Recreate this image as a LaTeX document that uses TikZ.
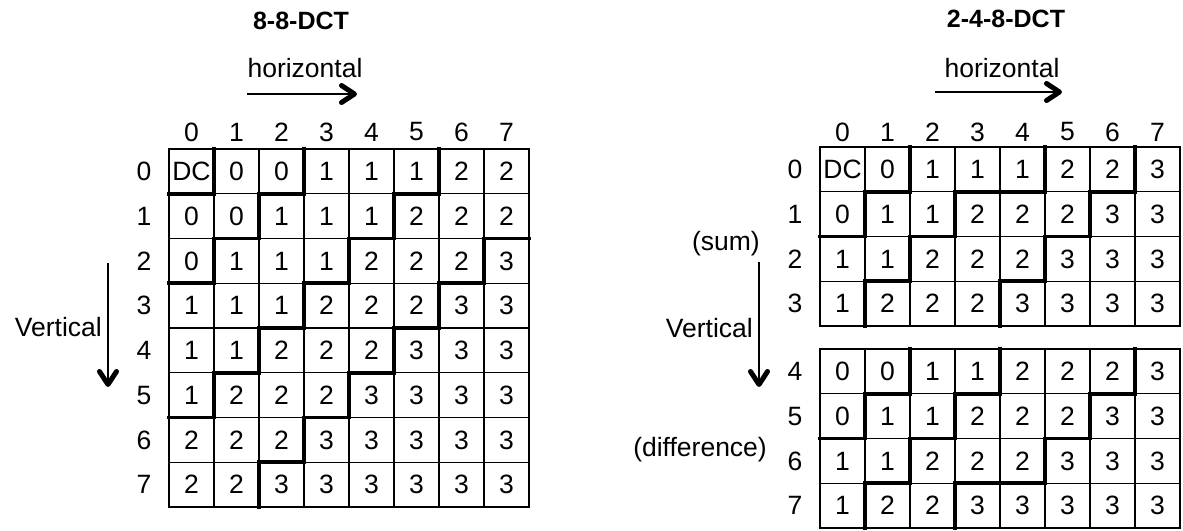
\documentclass[tikz,border=0pt]{standalone}
\usepackage{fontspec}
\setmainfont{Liberation Sans}
\usetikzlibrary{arrows.meta}

\tikzset{
  gridline/.style={line width=1.3pt},
  zoneline/.style={line width=3.6pt, line cap=rect},
  lab/.style={inner sep=0pt},
  dir/.style={line width=1.1pt, -{Straight Barb[length=13pt,width=17pt,line width=5pt 0,round]}},
}

% zone numbers, row by row (-1 = DC on its own)
\def\fullvals{{-1,0,0,1,1,1,2,2, 0,0,1,1,1,2,2,2, 0,1,1,1,2,2,2,3, 1,1,1,2,2,2,3,3,
  1,1,2,2,2,3,3,3, 1,2,2,2,3,3,3,3, 2,2,2,3,3,3,3,3, 2,2,3,3,3,3,3,3}}
\def\sumvals{{0,0,1,1,1,2,2,3, 0,1,1,2,2,2,3,3, 1,1,2,2,2,3,3,3, 1,2,2,2,3,3,3,3}}
\def\diffvals{{0,0,1,1,2,2,2,3, 0,1,1,2,2,2,3,3, 1,1,2,2,2,3,3,3, 1,2,2,3,3,3,3,3}}

% #1 name, #2 left, #3 top, #4 rows, #5 first row label, #6 zone numbers
\newcommand{\dctgrid}[6]{%
  \pgfmathtruncatemacro\lastrow{#4-1}
  \pgfmathtruncatemacro\penrow{#4-2}
  \foreach \r in {0,...,\lastrow}{
    \pgfmathtruncatemacro\lab{#5+\r}
    \node[lab] (#1-row\r) at (#2-25,#3+44.75*\r+22.4) {\lab};
    \foreach \c in {0,...,7}{
      \pgfmathtruncatemacro\zval{#6[\r*8+\c]}
      \pgfmathtruncatemacro\isdc{and(\r==0,and(\c==0,#5==0))}
      \node[lab] (#1-\r-\c) at (#2+45*\c+22.5,#3+44.75*\r+22.4)
        {\ifnum\isdc=1 DC\else\zval\fi};
    }
  }
  % thin lines
  \foreach \c in {1,...,7}
    \draw[gridline] (#2+45*\c,#3) -- ++(0,44.75*#4);
  \foreach \r in {1,...,\lastrow}
    \draw[gridline] (#2,#3+44.75*\r) -- ++(360,0);
  \draw[gridline] (#2,#3) rectangle ++(360,44.75*#4);
  % thick lines between zones
  \foreach \r in {0,...,\lastrow}{
    \foreach \c in {0,...,6}{
      \pgfmathtruncatemacro\za{#6[\r*8+\c]}
      \pgfmathtruncatemacro\zb{#6[\r*8+\c+1]}
      \ifnum\za=\zb\else\draw[zoneline] (#2+45*\c+45,#3+44.75*\r) -- ++(0,44.75);\fi
    }
  }
  \foreach \r in {0,...,\penrow}{
    \foreach \c in {0,...,7}{
      \pgfmathtruncatemacro\za{#6[\r*8+\c]}
      \pgfmathtruncatemacro\zb{#6[\r*8+\c+8]}
      \ifnum\za=\zb\else\draw[zoneline] (#2+45*\c,#3+44.75*\r+44.75) -- ++(45,0);\fi
    }
  }
}

\begin{document}
\begin{tikzpicture}[x=1pt, y=-1pt, font=\fontsize{26.5}{31}\selectfont]
  \useasboundingbox (0,0) rectangle (1183,530);

  % 8-8-DCT
  \node[lab, font=\fontsize{25}{30}\selectfont\bfseries] (Ltitle) at (301,21) {8-8-DCT};
  \node[lab] (Lhor) at (305,68) {horizontal};
  \coordinate (Lhs) at (247,94);
  \coordinate (Lhe) at (357,94);
  \draw[dir] (Lhs) -- (Lhe);
  \foreach \c in {0,...,7}
    \node[lab] (Lcol\c) at (169+45*\c+22.5,132) {\c};
  \dctgrid{L}{169}{149}{8}{0}{\fullvals}
  \node[lab, anchor=east] (Lver) at (102,327) {Vertical};
  \coordinate (Lvs) at (108,263);
  \coordinate (Lve) at (108,387);
  \draw[dir] (Lvs) -- (Lve);

  % 2-4-8-DCT
  \node[lab, font=\fontsize{25}{30}\selectfont\bfseries] (Rtitle) at (1006,19) {2-4-8-DCT};
  \node[lab] (Rhor) at (1002,68) {horizontal};
  \coordinate (Rhs) at (935,92);
  \coordinate (Rhe) at (1062,92);
  \draw[dir] (Rhs) -- (Rhe);
  \foreach \c in {0,...,7}
    \node[lab] (Rcol\c) at (820+45*\c+22.5,132) {\c};
  \dctgrid{S}{820}{147}{4}{0}{\sumvals}
  \dctgrid{D}{820}{349}{4}{4}{\diffvals}
  \node[lab, anchor=east] (Rsum) at (760,244) {(sum)};
  \node[lab, anchor=east] (Rver) at (753,328) {Vertical};
  \node[lab, anchor=east] (Rdiff) at (767,450) {(difference)};
  \coordinate (Rvs) at (759,262);
  \coordinate (Rve) at (759,387);
  \draw[dir] (Rvs) -- (Rve);
\end{tikzpicture}
\end{document}
